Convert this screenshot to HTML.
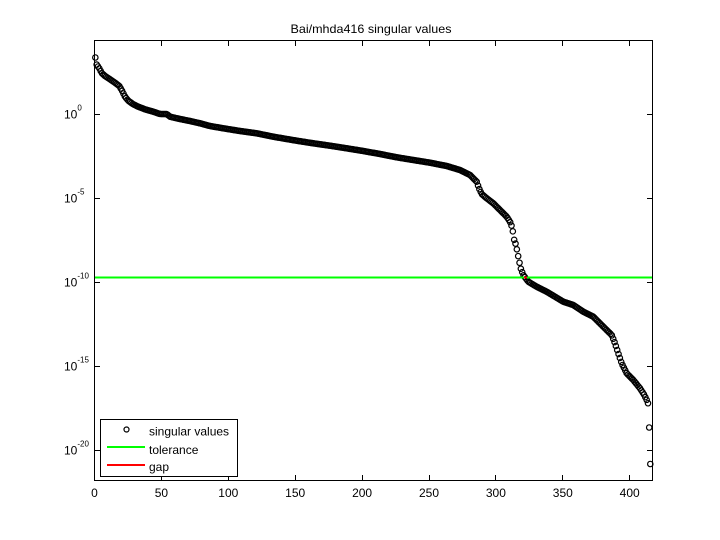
<!DOCTYPE html>
<html>
<head>
<meta charset="utf-8">
<style>
  html, body { margin:0; padding:0; background:#fff; }
  svg { display:block; }
  text { font-family: "Liberation Sans", "DejaVu Sans", sans-serif; fill:#000; }
</style>
</head>
<body>
<svg id="chart" width="720" height="540" viewBox="0 0 720 540" xmlns="http://www.w3.org/2000/svg">
  <rect x="0" y="0" width="720" height="540" fill="#fff"/>
  <rect x="94.5" y="40.5" width="558" height="440" fill="#fff" stroke="none"/>

  <g id="data" fill="none" stroke="#000" stroke-width="1.2"></g>

  <!-- tolerance line -->
  <line x1="94.5" y1="277.5" x2="652.5" y2="277.5" stroke="#00ff00" stroke-width="2"/>
  <!-- gap mark -->
  <rect x="524" y="276.5" width="3" height="2" fill="#ff0000"/>

  <!-- axes box -->
  <rect x="94.5" y="40.5" width="558" height="440" fill="none" stroke="#000" stroke-width="1"/>

  <g id="ticks" stroke="#000" stroke-width="1"></g>

  <!-- title -->
  <text x="371" y="33" font-size="12" text-anchor="middle" textLength="161" lengthAdjust="spacingAndGlyphs">Bai/mhda416 singular values</text>

  <!-- x tick labels -->
  <g font-size="12" text-anchor="middle">
    <text x="94.5" y="497">0</text>
    <text x="161.4" y="497">50</text>
    <text x="228.3" y="497">100</text>
    <text x="295.2" y="497">150</text>
    <text x="362.1" y="497">200</text>
    <text x="429" y="497">250</text>
    <text x="495.9" y="497">300</text>
    <text x="562.8" y="497">350</text>
    <text x="629.7" y="497">400</text>
  </g>

  <!-- y tick labels -->
  <g font-size="12">
    <text x="64" y="118.5">10<tspan font-size="8" dy="-8">0</tspan></text>
    <text x="64" y="202.5">10<tspan font-size="8" dy="-8">-5</tspan></text>
    <text x="64" y="286.5">10<tspan font-size="8" dy="-8">-10</tspan></text>
    <text x="64" y="370.5">10<tspan font-size="8" dy="-8">-15</tspan></text>
    <text x="64" y="454.5">10<tspan font-size="8" dy="-8">-20</tspan></text>
  </g>

  <!-- legend -->
  <rect x="100.5" y="419.5" width="137" height="57" fill="#fff" stroke="#000" stroke-width="1"/>
  <circle cx="126.5" cy="429.5" r="2.5" fill="none" stroke="#000" stroke-width="1.2"/>
  <text x="149" y="435.5" font-size="12">singular values</text>
  <line x1="107" y1="447" x2="145" y2="447" stroke="#00ff00" stroke-width="2"/>
  <text x="149" y="454" font-size="12">tolerance</text>
  <line x1="107" y1="465" x2="145" y2="465" stroke="#ff0000" stroke-width="2"/>
  <text x="149" y="471" font-size="12">gap</text>
</svg>
<script>
(function(){
  var NS = "http://www.w3.org/2000/svg";
  var tg = document.getElementById("ticks");
  function ln(x1,y1,x2,y2){
    var l = document.createElementNS(NS,"line");
    l.setAttribute("x1",x1);l.setAttribute("y1",y1);
    l.setAttribute("x2",x2);l.setAttribute("y2",y2);
    tg.appendChild(l);
  }
  var sx = 558/417;
  for (var v=0; v<=400; v+=50){
    var x = 94.5 + v*sx;
    x = Math.round(x-0.5)+0.5;
    ln(x,480.5,x,475);
    ln(x,40.5,x,46);
  }
  var yt = [114.5,198.5,282.5,366.5,450.5];
  for (var k=0;k<yt.length;k++){
    ln(94.5,yt[k],100,yt[k]);
    ln(652.5,yt[k],647,yt[k]);
  }
  var P = [
    [95.3,57.3],[96.6,64.5],[98,66.5],[99.3,68.3],[101.7,73],[105,76],[110,79.3],[115,82.7],
    [119.3,86],[121.7,90],[125,96.7],[128.3,100.7],[133.3,104.3],[138.3,106.7],[145,109.3],
    [153.3,111.7],[160,114],[166.7,114],[170,116.7],[180,119],[190,121],[200,123.3],[210,126],
    [223.3,128.3],[240,131],[256.7,133.3],[273.3,136.7],[286.7,139],[296.7,140.7],[313.3,143.3],
    [330,145.7],[346.7,148.3],[363.3,151],[380,154],[396.7,157.3],[413.3,160],[430,162.7],
    [446.7,166],[460,170],[470,175],[476.7,181.7],[479,188.3],[481.7,194],[486.7,198.3],
    [493.3,203.3],[500,210],[506.7,216.7],[510,221.7],[512.3,227.7],[514,239.3],[516,245],
    [518.3,256.7],[519.3,261.7],[520.7,268.3],[523.3,275],[528.3,281.7],[536.7,286.7],
    [546.7,291.7],[555,296.7],[563.3,301.7],[573.3,305],[583.3,311.7],[593.3,316.7],
    [603.3,326.7],[611.7,335],[615,343.3],[618.3,353.3],[621.7,363.3],[626.7,373.3],
    [633.3,380],[640,388.3],[644,394.5],[646.5,399.5],[648,403.3]
  ];
  function yAt(x){
    if (x<=P[0][0]) return P[0][1];
    for (var i=1;i<P.length;i++){
      if (x<=P[i][0]){
        var a=P[i-1], b=P[i];
        var t=(x-a[0])/(b[0]-a[0]);
        return a[1]+t*(b[1]-a[1]);
      }
    }
    return P[P.length-1][1];
  }
  var g = document.getElementById("data");
  function circ(x,y){
    var c = document.createElementNS(NS,"circle");
    c.setAttribute("cx",x.toFixed(2));
    c.setAttribute("cy",y.toFixed(2));
    c.setAttribute("r","2.7");
    g.appendChild(c);
  }
  for (var i=1;i<=414;i++){
    var x = 94 + i*sx;
    circ(x, yAt(x));
  }
  circ(649.2, 427.5);
  circ(650.3, 464);
})();
</script>
</body>
</html>
